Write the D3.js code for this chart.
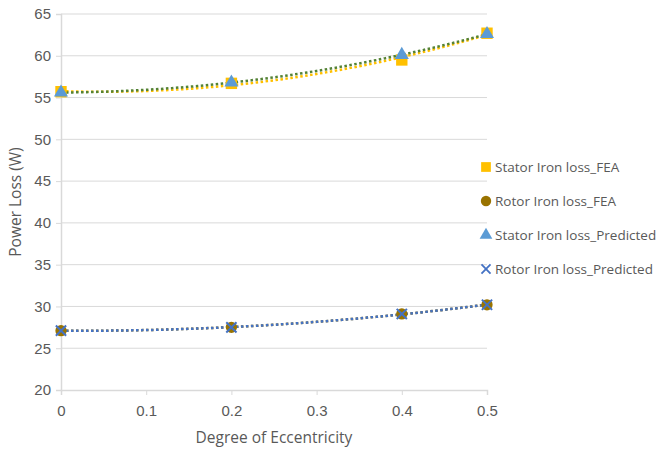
<!DOCTYPE html>
<html>
<head>
<meta charset="utf-8">
<script src="https://cdn.jsdelivr.net/npm/d3@7"></script>
<style>
  body { margin: 0; background: #fff; }
  svg { font-family: "Open Sans", "Liberation Sans", sans-serif; }
  .tick text { fill: #595959; font-size: 15px; }
</style>
</head>
<body>
<svg width="661" height="449"></svg>
<script>
var eccentricity = [0, 0.2, 0.4, 0.5];
var statorFEA = [55.7, 56.7, 59.5, 62.7];
var rotorFEA = [27.1, 27.5, 29.1, 30.2];
var statorPredicted = [55.6, 56.8, 60.1, 62.6];
var rotorPredicted = [27.1, 27.5, 29.1, 30.2];
var yTicks = [20, 25, 30, 35, 40, 45, 50, 55, 60, 65];
var xTicks = [0, 0.1, 0.2, 0.3, 0.4, 0.5];
var seriesNames = ['Stator Iron loss_FEA', 'Rotor Iron loss_FEA', 'Stator Iron loss_Predicted', 'Rotor Iron loss_Predicted'];

var svg = d3.select('svg');
var x = d3.scaleLinear().domain([0, 0.5]).range([61, 487]);
var y = d3.scaleLinear().domain([20, 65]).range([390, 14]);

// gridlines
svg.append('g').selectAll('line')
    .data(yTicks.slice(1))
  .enter().append('line')
    .attr('x1', x(0)).attr('x2', x(0.5))
    .attr('y1', function(d) { return y(d); })
    .attr('y2', function(d) { return y(d); })
    .attr('stroke', '#d9d9d9').attr('stroke-width', 1);

var yAxis = svg.append('g')
    .attr('transform', 'translate(' + x(0) + ',0)')
    .call(d3.axisLeft(y).tickValues(yTicks).tickSize(5).tickPadding(5));
yAxis.select('.domain').attr('stroke', '#d9d9d9').attr('stroke-width', 1.5);
yAxis.selectAll('.tick line').attr('stroke', '#d9d9d9');

var xAxis = svg.append('g')
    .attr('transform', 'translate(0,' + y(20) + ')')
    .call(d3.axisBottom(x).tickValues(xTicks).tickSize(5).tickPadding(10)
      .tickFormat(function(d) { return d === 0 ? '0' : d3.format('.1f')(d); }));
xAxis.select('.domain').attr('stroke', '#d9d9d9').attr('stroke-width', 1.5);
xAxis.selectAll('.tick line').attr('stroke', '#d9d9d9');

svg.append('text')
    .text('Degree of Eccentricity')
    .attr('x', (x(0) + x(0.5)) / 2).attr('y', 443)
    .attr('text-anchor', 'middle')
    .attr('fill', '#595959').attr('font-size', 15.5);

svg.append('text')
    .text('Power Loss (W)')
    .attr('transform', 'translate(21,' + y(42.5) + ') rotate(-90)')
    .attr('text-anchor', 'middle')
    .attr('fill', '#595959').attr('font-size', 15.5);

// quadratic least-squares trendline through a series
const fitQuadratic = function(xs, ys) {
  var s = [0, 0, 0, 0, 0], t = [0, 0, 0];
  xs.forEach(function(xv, i) {
    for (var k = 0; k < 5; k++) s[k] += Math.pow(xv, k);
    for (var k = 0; k < 3; k++) t[k] += ys[i] * Math.pow(xv, k);
  });
  var m = [[s[0], s[1], s[2], t[0]], [s[1], s[2], s[3], t[1]], [s[2], s[3], s[4], t[2]]];
  for (var i = 0; i < 3; i++) {
    for (var j = i + 1; j < 3; j++) {
      var f = m[j][i] / m[i][i];
      for (var k = i; k < 4; k++) m[j][k] -= f * m[i][k];
    }
  }
  var c = [0, 0, 0];
  for (var i = 2; i >= 0; i--) {
    var v = m[i][3];
    for (var k = i + 1; k < 3; k++) v -= m[i][k] * c[k];
    c[i] = v / m[i][i];
  }
  return function(xv) { return c[0] + c[1] * xv + c[2] * xv * xv; };
};

const drawTrend = function(ys, color) {
  var f = fitQuadratic(eccentricity, ys);
  var pts = d3.range(0, 0.5001, 0.01).map(function(xv) { return [xv, f(xv)]; });
  svg.append('path')
      .datum(pts)
      .attr('fill', 'none')
      .attr('stroke', color)
      .attr('stroke-width', 2.5)
      .attr('stroke-dasharray', '2.5,2.5')
      .attr('d', d3.line().x(function(d) { return x(d[0]); }).y(function(d) { return y(d[1]); }));
};

drawTrend(rotorFEA, '#997300');
drawTrend(rotorPredicted, '#4472C4');
drawTrend(statorFEA, '#FFC000');
drawTrend(statorPredicted, '#548235');

var symSquare = d3.symbol().type(d3.symbolSquare).size(130);
var symCircle = d3.symbol().type(d3.symbolCircle).size(100);
var symTriangle = d3.symbol().type(d3.symbolTriangle).size(85);
var symCross = d3.symbol().type(d3.symbolX).size(70);

const drawMarkers = function(ys, sym, color, stroke) {
  svg.append('g').selectAll('path')
      .data(ys)
    .enter().append('path')
      .attr('transform', function(d, i) { return 'translate(' + x(eccentricity[i]) + ',' + y(d) + ')'; })
      .attr('d', sym)
      .attr('fill', stroke ? 'none' : color)
      .attr('stroke', stroke ? color : 'none')
      .attr('stroke-width', stroke ? 2 : 0);
};

drawMarkers(statorFEA, symSquare, '#FFC000', false);
drawMarkers(rotorFEA, symCircle, '#997300', false);
drawMarkers(statorPredicted, symTriangle, '#5B9BD5', false);
drawMarkers(rotorPredicted, symCross, '#4472C4', true);

// legend
var legendSyms = [
  { sym: d3.symbol().type(d3.symbolSquare).size(95), color: '#FFC000', stroke: false },
  { sym: d3.symbol().type(d3.symbolCircle).size(85), color: '#997300', stroke: false },
  { sym: d3.symbol().type(d3.symbolTriangle).size(70), color: '#5B9BD5', stroke: false },
  { sym: d3.symbol().type(d3.symbolX).size(55), color: '#4472C4', stroke: true }
];
var legend = svg.append('g').selectAll('g')
    .data(seriesNames)
  .enter().append('g')
    .attr('transform', function(d, i) { return 'translate(486,' + (167 + i * 34) + ')'; });
legend.append('path')
    .attr('d', function(d, i) { return legendSyms[i].sym(); })
    .attr('fill', function(d, i) { return legendSyms[i].stroke ? 'none' : legendSyms[i].color; })
    .attr('stroke', function(d, i) { return legendSyms[i].stroke ? legendSyms[i].color : 'none'; })
    .attr('stroke-width', 1.8);
legend.append('text')
    .text(function(d) { return d; })
    .attr('x', 9).attr('dy', '0.35em')
    .attr('fill', '#595959').attr('font-size', 13.5);
</script>
</body>
</html>
